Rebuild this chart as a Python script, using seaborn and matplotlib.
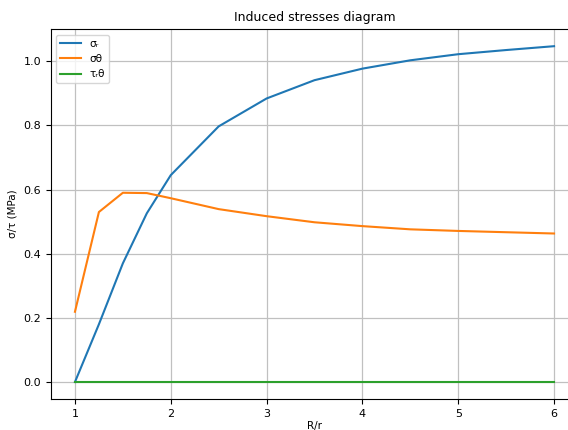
import matplotlib
matplotlib.use("Agg")
import matplotlib.pyplot as plt
import seaborn as sns
import pandas as pd

ratio = [1.0, 1.25, 1.5, 1.75, 2.0, 2.5, 3.0, 3.5, 4.0, 4.5, 5.0, 5.5, 6.0]
sigma_r = [0.0, 0.18, 0.37, 0.526, 0.645, 0.797, 0.884, 0.941, 0.977, 1.003, 1.022, 1.035, 1.047]
sigma_theta = [0.219, 0.53, 0.59, 0.589, 0.573, 0.539, 0.517, 0.498, 0.486, 0.476, 0.471, 0.467, 0.463]
tau_rtheta = [0.0] * len(ratio)
labels = ["σᵣ", "σθ", "τᵣθ"]

df = pd.DataFrame({
    "R/r": ratio * 3,
    "value": sigma_r + sigma_theta + tau_rtheta,
    "series": [labels[0]] * len(ratio) + [labels[1]] * len(ratio) + [labels[2]] * len(ratio),
})

plt.rcParams["font.family"] = ["DejaVu Sans"]
plt.rcParams["font.size"] = 8
fig = plt.figure(figsize=(5.68, 4.3), dpi=100)
ax = fig.add_axes([51 / 568, 0.0726, (578 - 51) / 568, 0.859])
sns.lineplot(data=df, x="R/r", y="value", hue="series", palette=["#1f77b4", "#ff7f0e", "#2ca02c"],
             ax=ax, linewidth=1.5)
ax.grid(True, color="#c0c0c0", linewidth=0.9)
ax.set_axisbelow(True)
ax.spines["right"].set_visible(False)
ax.set_title("Induced stresses diagram", fontsize=9)
ax.set_xlabel("R/r", fontsize=7.5, labelpad=2)
ax.set_ylabel("σ/τ (MPa)", fontsize=7.5)
ax.set_xlim(0.75, 6.25)
ax.set_ylim(-0.0523, 1.0993)
ax.set_xticks([1, 2, 3, 4, 5, 6])
ax.set_yticks([0.0, 0.2, 0.4, 0.6, 0.8, 1.0])
ax.set_yticklabels(["0.0", "0.2", "0.4", "0.6", "0.8", "1.0"])
ax.tick_params(labelsize=8)
ax.legend(title=None, loc="upper left", fontsize=7.5, handlelength=2.0)
fig.savefig("out.png", dpi=100)
